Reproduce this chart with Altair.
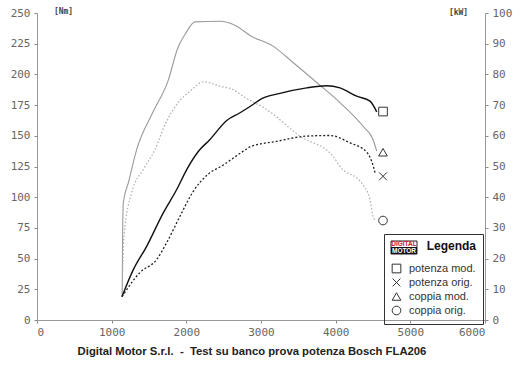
import altair as alt
import pandas as pd

SERIES = ["potenza mod.", "potenza orig.", "coppia mod.", "coppia orig."]
SHAPES = ["square", "M-0.9,-0.9L0.9,0.9M0.9,-0.9L-0.9,0.9", "triangle-up", "circle"]

RPM_TICKS = [0, 1000, 2000, 3000, 4000, 5000, 6000]
NM_TICKS = [0, 25, 50, 75, 100, 125, 150, 175, 200, 225, 250]
KW_TICKS = [0, 10, 20, 30, 40, 50, 60, 70, 80, 90, 100]

# coppia mod. (Nm)
cm_rpm = [1142, 1145, 1156, 1223, 1335, 1550, 1754, 1888, 1982, 2116, 2451, 2675,
          2853, 3161, 3429, 3746, 4058, 4366, 4500, 4550]
cm_nm = [19.4, 57, 95.7, 111.7, 138.8, 168.9, 194.5, 221.9, 232.5, 242.8, 243.3, 239.3,
         231.7, 223, 209.7, 193.4, 177, 157.8, 147, 137.5]

# coppia orig. (Nm)
co_rpm = [1138, 1165, 1268, 1424, 1580, 1714, 1871, 2049, 2237, 2451, 2625, 2759,
          3076, 3522, 3964, 4058, 4366, 4460, 4500, 4527]
co_nm = [19.1, 68.2, 103.8, 122.6, 138.8, 159, 175.5, 186.3, 194, 190.4, 187.7, 182.2,
         171.4, 149.7, 133.4, 125, 110, 98, 84.5, 81.8]

# potenza mod. (kW)
pm_rpm = [1138, 1290, 1469, 1691, 1871, 2005, 2160, 2317, 2541, 2719, 2893, 2987,
          3254, 3612, 3880, 4058, 4282, 4460, 4550]
pm_kw = [7.6, 16.4, 24.0, 34.9, 42.5, 49.0, 54.9, 58.8, 65.0, 67.5, 70.2, 71.8,
         73.8, 75.6, 76.3, 75.6, 72.9, 71.3, 67.8]

# potenza orig. (kW)
po_rpm = [1138, 1380, 1603, 1737, 1915, 2093, 2273, 2495, 2763, 2853, 3210, 3612,
          3924, 4192, 4415, 4504, 4527]
po_kw = [7.6, 15.5, 19.7, 25.2, 33.8, 41.9, 47.1, 50.5, 55.0, 56.4, 58.2, 59.9,
         60.1, 57.7, 54.7, 50.1, 48.0]

# end markers
marker_rpm = [4634, 4634, 4634, 4634]
marker_val = [67.9, 46.8, 136.6, 81.0]

TITLE = "Digital Motor S.r.l.\u00a0 -\u00a0 Test su banco prova potenza Bosch FLA206"

def frame(rpm, val, name):
    return pd.DataFrame({"rpm": rpm, "val": val, "serie": name})

cm_df = frame(cm_rpm, cm_nm, "coppia mod.")
co_df = frame(co_rpm, co_nm, "coppia orig.")
pm_df = frame(pm_rpm, pm_kw, "potenza mod.")
po_df = frame(po_rpm, po_kw, "potenza orig.")
pmk_df = pd.DataFrame({"rpm": marker_rpm[:2], "val": marker_val[:2], "serie": SERIES[:2]})
tmk_df = pd.DataFrame({"rpm": marker_rpm[2:], "val": marker_val[2:], "serie": SERIES[2:]})

LBL = dict(labelFont="DejaVu Sans Mono", labelFontSize=11, labelColor="#666",
           tickColor="#888", domainColor="#999", tickSize=3, grid=False)
TTL = dict(titleAngle=0, titleAlign="center", titleBaseline="middle",
           titleFont="DejaVu Sans Mono", titleFontSize=8, titleFontWeight="bold",
           titleColor="#444")

X = alt.X("rpm:Q", scale=alt.Scale(domain=[0, 6000], nice=False),
          axis=alt.Axis(values=RPM_TICKS, format="d", title=None, labelPadding=3, **LBL))
Y_NM = alt.Y("val:Q", scale=alt.Scale(domain=[0, 250], nice=False),
             axis=alt.Axis(orient="left", values=NM_TICKS, title="[Nm]", titleX=26, titleY=-2,
                           labelPadding=4, **LBL, **TTL))
Y_KW = alt.Y("val:Q", scale=alt.Scale(domain=[0, 100], nice=False),
             axis=alt.Axis(orient="right", values=KW_TICKS, title="[kW]", titleX=-27, titleY=-1,
                           labelPadding=4, **LBL, **TTL))

LEGEND = alt.Legend(
    title="Legenda", orient="none", legendX=347, legendY=221,
    strokeColor="#333", padding=7,
    titleFont="Liberation Sans Narrow, Arial Narrow, Liberation Sans", titleFontSize=12,
    titleFontWeight="bold", titleColor="#111", titleAnchor="end", titlePadding=10,
    labelFont="Liberation Sans", labelFontSize=11, labelColor="#333", labelOffset=7,
    symbolSize=75, symbolStrokeWidth=1, symbolStrokeColor="#333",
    symbolFillColor="transparent", rowPadding=1,
)
SHAPE = alt.Shape("serie:N", scale=alt.Scale(domain=SERIES, range=SHAPES), legend=LEGEND)

def line(df, y, color, width, dash=None):
    kw = dict(color=color, strokeWidth=width, interpolate="monotone")
    if dash:
        kw["strokeDash"] = dash
    return alt.Chart(df).mark_line(**kw).encode(x=X, y=y)

def markers(df, y):
    return alt.Chart(df).mark_point(filled=False, color="#333", size=75, strokeWidth=1,
                                    opacity=1).encode(x=X, y=y, shape=SHAPE)

torque = alt.layer(
    line(cm_df, Y_NM, "#9a9a9a", 1.1),
    line(co_df, Y_NM, "#b0b0b0", 1.3, [1.5, 2]),
    markers(tmk_df, Y_NM),
)
power = alt.layer(
    line(pm_df, Y_KW, "#111111", 1.4),
    line(po_df, Y_KW, "#222222", 1.3, [2, 2]),
    markers(pmk_df, Y_KW),
)

one = pd.DataFrame({"t": ["logo"]})
logo = alt.layer(
    alt.Chart(one).mark_rect(fill="white", stroke="#222", strokeWidth=1).encode(
        x=alt.value(354), x2=alt.value(380), y=alt.value(228), y2=alt.value(241)),
    alt.Chart(one).mark_rect(fill="#111").encode(
        x=alt.value(354), x2=alt.value(380), y=alt.value(234), y2=alt.value(241)),
    alt.Chart(pd.DataFrame({"t": ["DIGITAL"]})).mark_text(
        font="Liberation Sans", fontSize=6.5, fontWeight="bold", color="#d0102a",
        baseline="middle", align="center").encode(
        text="t:N", x=alt.value(367), y=alt.value(231)),
    alt.Chart(pd.DataFrame({"t": ["MOTOR"]})).mark_text(
        font="Liberation Sans", fontSize=6.5, fontWeight="bold", color="white",
        baseline="middle", align="center").encode(
        text="t:N", x=alt.value(367), y=alt.value(237.7)),
)

chart = alt.layer(torque, power, logo).resolve_scale(y="independent").properties(
    width=448, height=307,
    autosize=alt.AutoSizeParams(type="none"),
    padding={"left": 37, "top": 13, "right": 35, "bottom": 47},
    background="white",
    title=alt.TitleParams(text=TITLE, orient="bottom", font="Liberation Sans",
                          fontSize=11.3, fontWeight="bold", color="#222",
                          anchor="middle", dx=-9, offset=9),
).configure_view(stroke=None)

chart.save("out.html", embed_options={"renderer": "svg", "actions": False})
